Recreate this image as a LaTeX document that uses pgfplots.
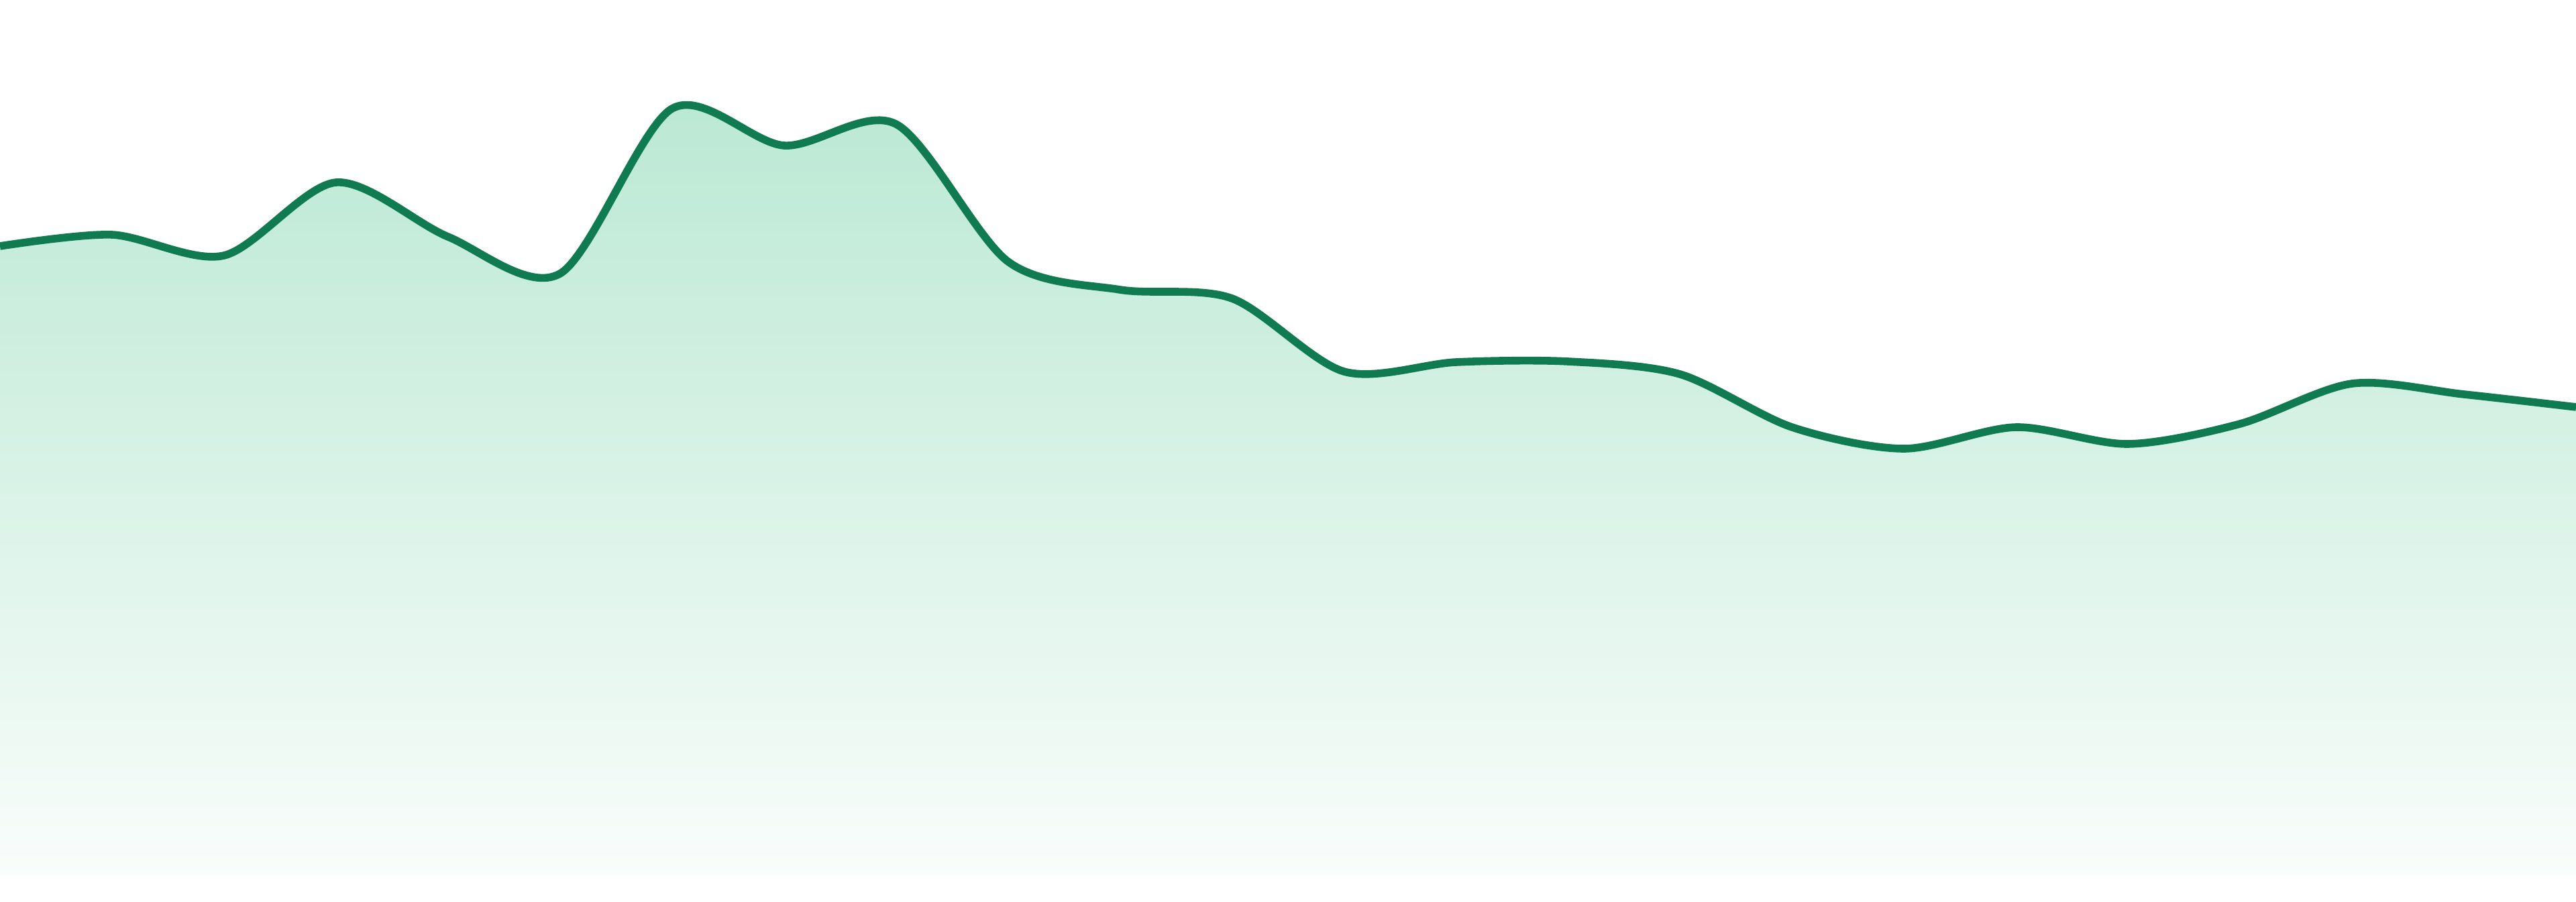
\documentclass[border=0pt]{standalone}
\usepackage{pgfplots}
\pgfplotsset{compat=1.18}
\usepackage{pgfplotstable}

\definecolor{linegreen}{RGB}{16,123,80}
\definecolor{filltop}{RGB}{186,232,211}
\definecolor{fillbot}{RGB}{249,253,251}

\pgfplotstableread{
x  y
0  938
1  955
2  924
3  1033
4  952
5  897
6  1143
7  1088
8  1120
9  915
10 873
11 860
12 751
13 765
14 766
15 747
16 668
17 636
18 668
19 643
20 673
21 733
22 717
23 698
}\series

\begin{document}
\begin{tikzpicture}
\useasboundingbox (0,0) rectangle (38.4,13.44);
\begin{axis}[
	at={(0,0)}, anchor=south west,
	scale only axis,
	width=38.4cm, height=13.44cm,
	xmin=0, xmax=23,
	ymin=-39, ymax=1305,
	axis line style={draw=none},
	ticks=none,
]
% shaded area under the curve
\addplot[draw=none, top color=filltop, bottom color=fillbot,
	smooth, tension=0.5] table[x=x,y=y] {\series} \closedcycle;
% the line itself
\addplot[linegreen, line width=3.3pt, smooth, tension=0.5,
	line join=round] table[x=x,y=y] {\series};
\end{axis}
\end{tikzpicture}
\end{document}
